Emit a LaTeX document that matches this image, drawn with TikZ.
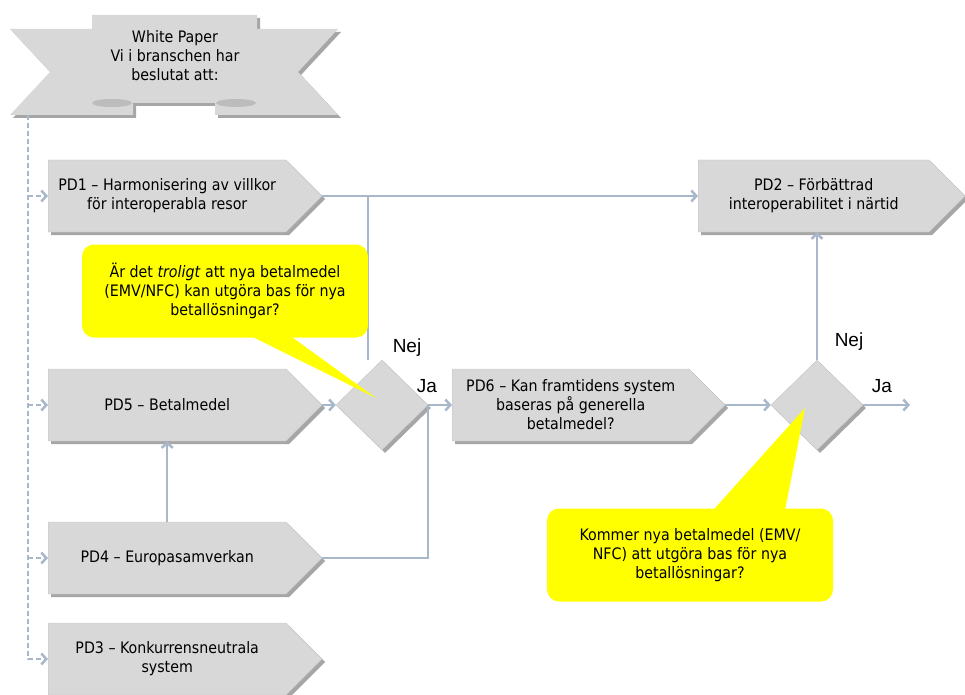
\documentclass[tikz,border=0pt]{standalone}
\usepackage{fontspec}
\setmainfont{DejaVu Sans Condensed}
\newfontfamily\answerfont{Liberation Sans}
\usetikzlibrary{shapes.symbols,shapes.geometric,shadows,arrows.meta}
\definecolor{boxgray}{RGB}{216,216,216}
\definecolor{boxedge}{RGB}{196,196,196}
\definecolor{foldgray}{RGB}{188,188,188}
\definecolor{linkblue}{RGB}{168,184,202}
\definecolor{noteyellow}{RGB}{255,255,0}
\begin{document}
\begin{tikzpicture}
  [x=1pt,y=-1pt,every node/.style={font=\fontsize{15.8}{19}\selectfont,align=center},
  boxshadow/.style={drop shadow={opacity=.35,shadow xshift=3pt,shadow yshift=-3pt,fill=black}},
  pdbox/.style={signal,signal to=east,signal pointer angle=90,fill=boxgray,draw=boxedge,
    boxshadow,minimum height=72pt,inner sep=2pt,anchor=west},
  choice/.style={diamond,fill=boxgray,draw=boxedge,minimum width=92pt,minimum height=90pt,
    inner sep=0pt,boxshadow},
  note/.style={rounded corners=12pt,fill=noteyellow,minimum width=286pt,minimum height=93pt},
  wire/.style={draw=linkblue,line width=2.5pt},
  link/.style={wire,-{Straight Barb[length=5pt,width=11pt]}},
  feed/.style={link,dash pattern=on 5pt off 3pt},
  answer/.style={font=\answerfont\fontsize{19}{22}\selectfont}]
  \useasboundingbox (0,0) rectangle (965,695);

  % banner
  \path[fill=boxgray,boxshadow]
    (10,29) -- (92,29) -- (92,15) -- (257,15) -- (257,29) -- (338,29) -- (298,72)
    -- (338,115) -- (215,115) -- (215,103) -- (133,103) -- (133,115) -- (10,115)
    -- (50,72) -- cycle;
  \fill[foldgray] (112,103) ellipse (20 and 4);
  \fill[foldgray] (236,103) ellipse (20 and 4);
  \node (wp) at (175,56) {White Paper\\Vi i branschen har\\beslutat att:};
  \coordinate (wpfoot) at (28,115);

  \node[pdbox,minimum width=274pt] (pd1) at (48,196) {PD1 – Harmonisering av villkor\\för interoperabla resor};
  \node[pdbox,minimum width=267pt] (pd2) at (698,196) {PD2 – Förbättrad\\interoperabilitet i närtid};
  \node[pdbox,minimum width=274pt] (pd5) at (48,405) {PD5 – Betalmedel};
  \node[pdbox,minimum width=273pt] (pd6) at (452,405) {PD6 – Kan framtidens system\\baseras på generella\\betalmedel?};
  \node[pdbox,minimum width=274pt] (pd4) at (48,558) {PD4 – Europasamverkan};
  \node[pdbox,minimum width=274pt] (pd3) at (48,659) {PD3 – Konkurrensneutrala\\system};
  \node[choice] (d1) at (382,405) {};
  \node[choice] (d2) at (817,405) {};
  \coordinate (out) at (910,405);

  \foreach \from/\to in {pd1/pd2,pd5/d1,d1/pd6,pd6/d2}
    \draw[link] (\from.east) -- (\to.west);
  \draw[link] (pd4.north) -- (pd5.south);
  \draw[wire] (pd4.east) -| (d1.east);
  \draw[wire] ([xshift=-14pt]d1.north) -- ([xshift=-14pt]d1.north |- pd1.east);
  \draw[link] (d2.north) -- (d2.north |- pd2.south);
  \draw[link] (d2.east) -- (out);

  \draw[feed] (wpfoot) |- (pd3.west);
  \foreach \n in {pd1,pd5,pd4}
    \draw[feed] (wpfoot |- \n.west) -- (\n.west);

  \node[answer] (nej1) at (407,348) {Nej};
  \node[answer] (ja1) at (427,386) {Ja};
  \node[answer] (nej2) at (849,342) {Nej};
  \node[answer] (ja2) at (882,386) {Ja};

  % callouts
  \coordinate (t1) at (376,398);
  \coordinate (t2) at (805,408);
  \node[note] (c1) at (225,291) {Är det \textit{troligt} att nya betalmedel\\(EMV/NFC) kan utgöra bas för nya\\betallösningar?};
  \node[note] (c2) at (690,555) {Kommer nya betalmedel (EMV/\\NFC) att utgöra bas för nya\\betallösningar?};
  \fill[noteyellow] ([xshift=25pt,yshift=2pt]c1.south) -- (t1) -- ([xshift=65pt,yshift=2pt]c1.south) -- cycle;
  \fill[noteyellow] ([xshift=23pt,yshift=-2pt]c2.north) -- (t2) -- ([xshift=95pt,yshift=-2pt]c2.north) -- cycle;
\end{tikzpicture}
\end{document}
